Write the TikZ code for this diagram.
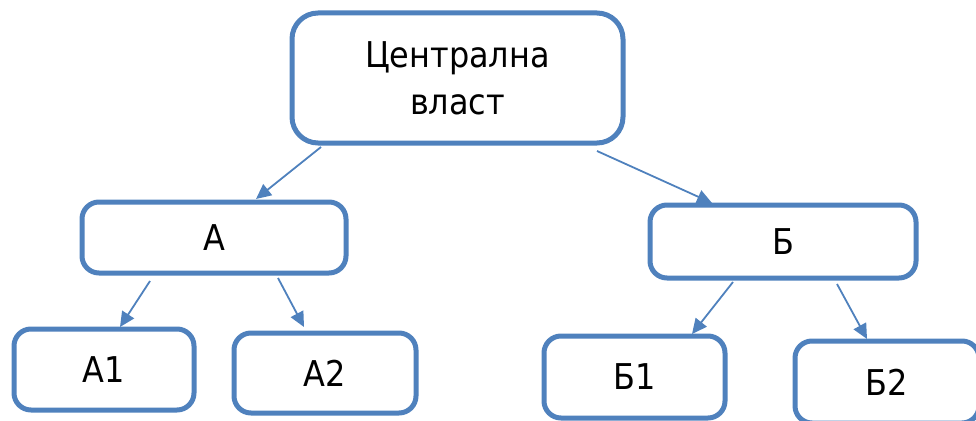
\documentclass[tikz,border=0pt]{standalone}
\usepackage{fontspec}
\setmainfont{DejaVu Sans Condensed}
\usetikzlibrary{arrows.meta,calc}
\definecolor{boxblue}{HTML}{4F81BD}
\tikzset{
  orgbox/.style={draw=boxblue, line width=5pt, rounded corners=17pt, fill=white,
    inner sep=0pt, outer sep=0pt, align=center,
    font=\fontsize{35.5}{47}\selectfont},
  link/.style={draw=boxblue, line width=1.8pt, -{Triangle[length=15pt,width=14pt]}}
}
\begin{document}
\begin{tikzpicture}[x=1pt,y=-1pt]
\useasboundingbox (0,0) rectangle (976,420);
\node[orgbox, rounded corners=26pt, minimum width=331pt, minimum height=130pt] (C) at (457.5,78) {Централна\\власт};
\node[orgbox, minimum width=264pt, minimum height=71pt] (A) at (214,237.5) {А};
\node[orgbox, minimum width=180pt, minimum height=81pt] (A1) at (104,369.5) {А1};
\node[orgbox, minimum width=182pt, minimum height=80pt] (A2) at (325,373) {А2};
\node[orgbox, minimum width=266pt, minimum height=73pt] (B) at (783,241.5) {Б};
\node[orgbox, minimum width=181pt, minimum height=82pt] (B1) at (634.5,377) {Б1};
\node[orgbox, minimum width=184pt, minimum height=82pt] (B2) at (887,382) {Б2};
\draw[link] ([shift={(29,4)}]C.south west) -- ([shift={(174,-3)}]A.north west);
\draw[link] ([shift={(-26,8)}]C.south east) -- ([shift={(62,-2)}]B.north west);
\draw[link] ([shift={(68,8)}]A.south west) -- ([shift={(106,-2)}]A1.north west);
\draw[link] ([shift={(196,5)}]A.south west) -- ([shift={(70,-6)}]A2.north west);
\draw[link] ([shift={(83,4)}]B.south west) -- ([shift={(148,-2)}]B1.north west);
\draw[link] ([shift={(187,6)}]B.south west) -- ([shift={(72,-2)}]B2.north west);
\end{tikzpicture}
\end{document}
